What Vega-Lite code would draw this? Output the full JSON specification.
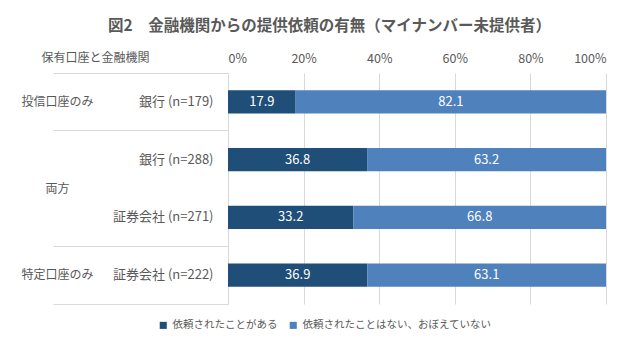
{
  "$schema": "https://vega.github.io/schema/vega-lite/v6.json",
  "width": 378,
  "height": 231,
  "autosize": {"type": "none"},
  "padding": {"left": 228, "top": 73, "right": 34, "bottom": 49},
  "background": "white",
  "config": {
    "font": "Noto Sans CJK JP",
    "view": {"stroke": null}
  },
  "title": {
    "text": "図2　金融機関からの提供依頼の有無（マイナンバー未提供者）",
    "font": "Noto Sans CJK JP",
    "fontSize": 15.5,
    "fontWeight": "bold",
    "color": "#595959",
    "anchor": "middle",
    "frame": "bounds",
    "dx": 16,
    "offset": 17
  },
  "data": {
    "values": [
      {"label": "銀行 (n=179)", "group": "投信口座のみ", "cat": "依頼されたことがある", "order": 1, "value": 17.9},
      {"label": "銀行 (n=179)", "group": "投信口座のみ", "cat": "依頼されたことはない、おぼえていない", "order": 2, "value": 82.1},
      {"label": "銀行 (n=288)", "group": "両方", "cat": "依頼されたことがある", "order": 1, "value": 36.8},
      {"label": "銀行 (n=288)", "group": "両方", "cat": "依頼されたことはない、おぼえていない", "order": 2, "value": 63.2},
      {"label": "証券会社 (n=271)", "group": "両方", "cat": "依頼されたことがある", "order": 1, "value": 33.2},
      {"label": "証券会社 (n=271)", "group": "両方", "cat": "依頼されたことはない、おぼえていない", "order": 2, "value": 66.8},
      {"label": "証券会社 (n=222)", "group": "特定口座のみ", "cat": "依頼されたことがある", "order": 1, "value": 36.9},
      {"label": "証券会社 (n=222)", "group": "特定口座のみ", "cat": "依頼されたことはない、おぼえていない", "order": 2, "value": 63.1}
    ]
  },
  "transform": [
    {"stack": "value", "groupby": ["label"], "sort": [{"field": "order", "order": "ascending"}], "as": ["x0", "x1"]},
    {"calculate": "(datum.x0 + datum.x1) / 2", "as": "mid"}
  ],
  "layer": [
    {
      "mark": {"type": "bar", "height": {"band": 0.4}},
      "encoding": {
        "y": {
          "field": "label", "type": "nominal",
          "sort": ["銀行 (n=179)", "銀行 (n=288)", "証券会社 (n=271)", "証券会社 (n=222)"],
          "scale": {"paddingInner": 0, "paddingOuter": 0},
          "axis": {
            "orient": "left", "title": null, "domain": false, "ticks": false, "tickSize": 0,
            "labelPadding": 15, "labelColor": "#595959", "labelFontSize": 13, "labelAlign": "right"
          }
        },
        "x": {
          "field": "x0", "type": "quantitative",
          "scale": {"domain": [0, 100]},
          "axis": {
            "orient": "top", "title": null, "values": [0, 20, 40, 60, 80, 100],
            "labelExpr": "datum.value + '%'", "grid": true, "gridColor": "#D9D9D9",
            "domain": false, "ticks": false, "labelPadding": 8,
            "labelColor": "#595959", "labelFontSize": 12.5
          }
        },
        "x2": {"field": "x1"},
        "color": {
          "field": "cat", "type": "nominal",
          "scale": {
            "domain": ["依頼されたことがある", "依頼されたことはない、おぼえていない"],
            "range": ["#1F4E79", "#4F81BD"]
          },
          "legend": {
            "orient": "none", "direction": "horizontal", "legendX": -70, "legendY": 247,
            "title": null, "symbolType": "square", "symbolSize": 50, "symbolStrokeWidth": 0,
            "labelFontSize": 10.5, "labelColor": "#595959", "columnPadding": 10, "labelOffset": 4,
            "labelLimit": 0
          }
        }
      }
    },
    {
      "mark": {"type": "text", "color": "white", "fontSize": 13, "baseline": "middle", "align": "center"},
      "encoding": {
        "y": {
          "field": "label", "type": "nominal",
          "sort": ["銀行 (n=179)", "銀行 (n=288)", "証券会社 (n=271)", "証券会社 (n=222)"],
          "scale": {"paddingInner": 0, "paddingOuter": 0},
          "axis": {
            "orient": "left",
            "title": "保有口座と金融機関", "titleAngle": 0, "titleAlign": "left", "titleBaseline": "middle",
            "titleX": -187, "titleY": -16, "titleColor": "#595959", "titleFontSize": 12, "titleFontWeight": "normal",
            "labelExpr": "datum.value == '銀行 (n=179)' ? '投信口座のみ' : datum.value == '銀行 (n=288)' ? '両方' : datum.value == '証券会社 (n=222)' ? '特定口座のみ' : ''",
            "labelAlign": "center", "labelBaseline": "middle", "labelPadding": -4,
            "labelOffset": {"condition": {"test": "datum.value == '銀行 (n=288)'", "value": 29}, "value": 0},
            "labelColor": "#595959", "labelFontSize": 12,
            "domain": true, "domainColor": "#D9D9D9",
            "ticks": true, "tickSize": 175, "tickColor": "#D9D9D9", "bandPosition": 1, "tickExtra": true,
            "tickOpacity": {"condition": {"test": "datum.value == '銀行 (n=288)'", "value": 0}, "value": 1}
          }
        },
        "x": {
          "field": "mid", "type": "quantitative",
          "scale": {"domain": [0, 100]},
          "axis": {
            "orient": "top", "title": null, "values": [0, 20, 40, 60, 80, 100],
            "labelExpr": "datum.value + '%'", "grid": true, "gridColor": "#D9D9D9",
            "domain": false, "ticks": false, "labelPadding": 8,
            "labelColor": "#595959", "labelFontSize": 12.5
          }
        },
        "text": {"field": "value", "type": "quantitative", "format": ".1f"}
      }
    }
  ],
  "resolve": {"axis": {"y": "independent"}}
}
